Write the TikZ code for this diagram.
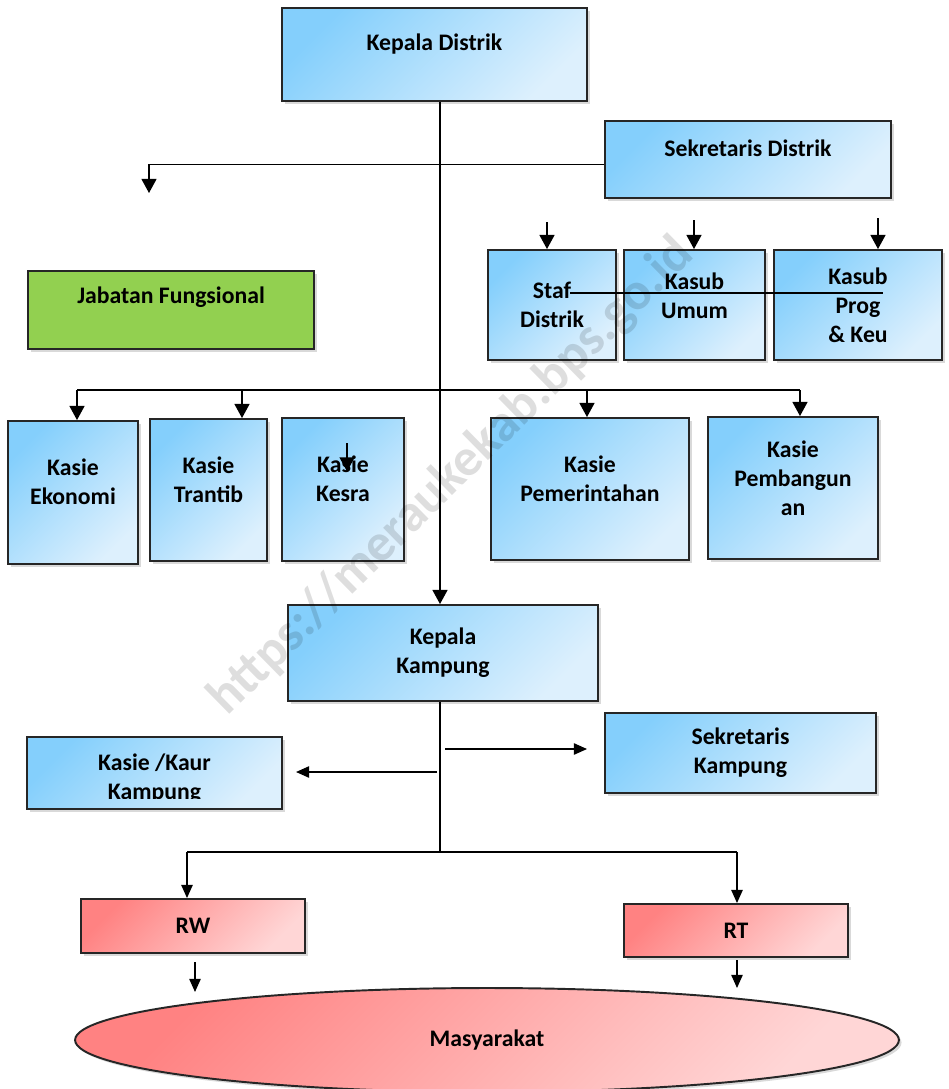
\documentclass[tikz,border=0pt]{standalone}
\usepackage{fontspec}
\setmainfont{Carlito}
\usetikzlibrary{arrows.meta,shapes.geometric,shadows}

\definecolor{skyA}{HTML}{84CFFC}
\definecolor{skyB}{HTML}{DDF0FD}
\definecolor{roseA}{HTML}{FF8282}
\definecolor{roseB}{HTML}{FFD6D6}
\definecolor{leaf}{HTML}{92D050}

\begin{document}
\begin{tikzpicture}
  [x=0.02cm, y=-0.02cm,
   box/.style = {draw=black!85, line width=1.1pt, inner sep=0pt,
                 drop shadow={shadow xshift=1.5pt, shadow yshift=-1.5pt, opacity=0.3}},
   bluebox/.style = {box, top color=skyA, bottom color=skyB, shading angle=45},
   pinkbox/.style = {box, top color=roseA, bottom color=roseB, shading angle=45},
   greenbox/.style = {box, fill=leaf},
   txt/.style = {font=\bfseries\fontsize{13.5}{16.5}\selectfont, align=center, inner sep=0pt},
   conn/.style = {line width=0.8pt},
   arr/.style = {conn, -{Triangle[length=8pt, width=8.5pt]}},
   arrthin/.style = {conn, -{Triangle[length=7.5pt, width=6.5pt]}}]

\useasboundingbox (0,0) rectangle (949,1089);
\clip (0,0) rectangle (949,1089);

% Distrik
\node[bluebox, minimum width=6.10cm, minimum height=1.86cm,
      label={[txt,yshift=6pt]center:Kepala Distrik}] (kd) at (434.5,54.5) {};
\node[bluebox, minimum width=5.72cm, minimum height=1.54cm,
      label={[txt,yshift=6.5pt]center:Sekretaris Distrik}] (sd) at (748,159.5) {};
\node[greenbox, minimum width=5.72cm, minimum height=1.56cm,
      label={[txt,yshift=7.5pt]center:Jabatan Fungsional}] (jf) at (171,310) {};

% Sekretariat
\node[bluebox, txt, minimum width=2.56cm, minimum height=2.20cm] (staf) at (552,305) {Staf\\Distrik};
\node[bluebox, minimum width=2.82cm, minimum height=2.20cm,
      label={[txt,yshift=5.5pt]center:Kasub\\Umum}] (umum) at (694.5,305) {};
\node[bluebox, txt, minimum width=3.36cm, minimum height=2.20cm] (prog) at (858,305) {Kasub\\Prog\\\& Keu};

% Seksi
\node[bluebox, minimum width=2.60cm, minimum height=2.86cm,
      label={[txt,yshift=6pt]center:Kasie\\Ekonomi}] (eko) at (73,492.5) {};
\node[bluebox, minimum width=2.34cm, minimum height=2.84cm,
      label={[txt,yshift=6pt]center:Kasie\\Trantib}] (tran) at (208.5,490) {};
\node[bluebox, minimum width=2.44cm, minimum height=2.86cm,
      label={[txt,yshift=6pt]center:Kasie\\Kesra}] (kesra) at (343,489.5) {};
\node[bluebox, minimum width=3.96cm, minimum height=2.84cm,
      label={[txt,yshift=6pt]center:Kasie\\Pemerintahan}] (pem) at (590,489) {};
\node[bluebox, minimum width=3.40cm, minimum height=2.84cm,
      label={[txt,yshift=5.5pt]center:Kasie\\Pembangun\\an}] (bang) at (793,488) {};

% Kampung
\node[bluebox, txt, minimum width=6.20cm, minimum height=1.92cm] (kk) at (443,653) {Kepala\\Kampung};
\node[bluebox, txt, minimum width=5.42cm, minimum height=1.60cm] (sk) at (740.5,753) {Sekretaris\\Kampung};
\node[bluebox, minimum width=5.10cm, minimum height=1.44cm] (kaur) at (154.5,773) {};
\begin{scope}
  \clip (kaur.north west) rectangle ([yshift=6.5pt]kaur.south east);
  \node[txt] (kaurtxt) at ([yshift=-3pt]kaur.center) {Kasie /Kaur\\Kampung};
\end{scope}
\node[pinkbox, txt, minimum width=4.48cm, minimum height=1.08cm] (rw) at (193,926) {RW};
\node[pinkbox, txt, minimum width=4.48cm, minimum height=1.06cm] (rt) at (736,930.5) {RT};
\node[pinkbox, ellipse, txt, minimum width=16.48cm, minimum height=2.08cm] (mas) at (487,1040) {Masyarakat};

% Lines
\coordinate (spine) at (440,0);
\draw[arr] (kd.south -| spine) -- (kk.north -| spine);

\coordinate (jfarrow) at (149,193);
\draw[arr] ([yshift=-3pt]sd.west) -| (jfarrow);

\foreach \x/\y/\n in {547/222/staf, 694/220/umum, 878/218/prog}
  \draw[arr] (\x,\y) -- (\x,\y |- \n.north);
\coordinate (strikeL) at (570,293);
\coordinate (strikeR) at (883,293);
\draw[conn] (strikeL) -- (strikeR);

\coordinate (busL) at (77,390);
\coordinate (busR) at (800,390);
\draw[conn] (busL) -- (busR);
\foreach \x/\n in {77/eko, 242/tran, 587/pem, 800/bang}
  \draw[arr] (\x,390) -- (\x,390 |- \n.north);
\draw[arr] ([xshift=2.3pt,yshift=-15pt]kesra.north) -- ++(0,28);

\coordinate (bus2) at (0,852);
\draw[conn] (kk.south -| spine) -- (spine |- bus2);
\coordinate (rwtop) at (187,852);
\coordinate (rttop) at (737,852);
\draw[conn] (rwtop) -- (rttop);
\draw[arrthin] (rwtop) -- (rwtop |- rw.north);
\draw[arrthin] (rttop) -- (rttop |- rt.north);

\coordinate (skfrom) at (445,749);
\coordinate (skto) at (587,749);
\draw[arrthin] (skfrom) -- (skto);
\coordinate (kaurfrom) at (437,772);
\coordinate (kaurto) at (296,772);
\draw[arrthin] (kaurfrom) -- (kaurto);

\coordinate (rwfrom) at (195,962);
\coordinate (rwto) at (195,992);
\draw[arrthin] (rwfrom) -- (rwto);
\coordinate (rtfrom) at (737,960);
\coordinate (rtto) at (737,988);
\draw[arrthin] (rtfrom) -- (rtto);

% Watermark
\node[rotate=44.5, text=black, text opacity=0.13,
      font=\bfseries\fontsize{30}{30}\selectfont] (wm) at (452,477) {https://meraukekab.bps.go.id};

\end{tikzpicture}
\end{document}
